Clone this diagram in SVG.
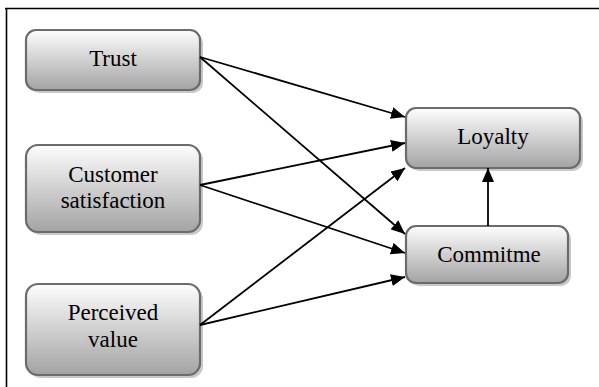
<svg xmlns="http://www.w3.org/2000/svg" width="599" height="387" viewBox="0 0 599 387">
<defs>
<linearGradient id="g" x1="0" y1="0" x2="0" y2="1">
<stop offset="0" stop-color="#fdfdfd"/>
<stop offset="1" stop-color="#a3a3a3"/>
</linearGradient>
<linearGradient id="bl" x1="0" y1="0" x2="1" y2="0">
<stop offset="0" stop-color="#ffffff"/>
<stop offset="0.45" stop-color="#555"/>
<stop offset="1" stop-color="#333"/>
</linearGradient>
<marker id="ah" markerUnits="userSpaceOnUse" markerWidth="16" markerHeight="12" refX="14" refY="6" orient="auto">
<path d="M0,0 L14,6 L0,12 Z" fill="#000"/>
</marker>
</defs>
<style>
.box{fill:url(#g);stroke:#6b6b6b;stroke-width:2.2}
.sh{fill:#c8c8c8}
.t{font-family:'Liberation Serif','Times New Roman',serif;font-size:23px;fill:#000;text-anchor:middle}
.c{stroke:#000;stroke-width:1.8;fill:none;marker-end:url(#ah)}
</style>
<rect width="599" height="387" fill="#fff"/>
<g id="frame">
<line x1="5" y1="8.5" x2="599" y2="8.5" stroke="#000" stroke-width="1.6"/>
<line x1="6.5" y1="8" x2="6.5" y2="387" stroke="#000" stroke-width="1.6"/>
<line x1="420" y1="386" x2="599" y2="386" stroke="url(#bl)" stroke-width="1.6"/>
</g>
<g id="trust">
<rect class="sh" x="29" y="33" width="174" height="60" rx="10"/>
<rect class="box" x="26" y="30" width="174" height="60" rx="10"/>
<text class="t" x="113" y="66">Trust</text>
</g>
<g id="customer-satisfaction">
<rect class="sh" x="29" y="148" width="174" height="87" rx="12"/>
<rect class="box" x="26" y="145" width="174" height="87" rx="12"/>
<text class="t" x="113" y="182">Customer</text>
<text class="t" x="113" y="208">satisfaction</text>
</g>
<g id="perceived-value">
<rect class="sh" x="29" y="287" width="174" height="91" rx="12"/>
<rect class="box" x="26" y="284" width="174" height="91" rx="12"/>
<text class="t" x="113" y="320">Perceived</text>
<text class="t" x="113" y="347">value</text>
</g>
<g id="loyalty">
<rect class="sh" x="409" y="111" width="174" height="60" rx="10"/>
<rect class="box" x="406" y="108" width="174" height="60" rx="10"/>
<text class="t" x="493" y="144">Loyalty</text>
</g>
<g id="commitme">
<rect class="sh" x="409" y="229" width="162" height="57" rx="10"/>
<rect class="box" x="406" y="226" width="162" height="57" rx="10"/>
<text class="t" x="489" y="262">Commitme</text>
</g>
<g id="connectors">
<line class="c" x1="200" y1="57" x2="405" y2="117"/>
<line class="c" x1="200" y1="57" x2="405" y2="234"/>
<line class="c" x1="200" y1="185" x2="405" y2="143"/>
<line class="c" x1="200" y1="185" x2="405" y2="253"/>
<line class="c" x1="200" y1="325" x2="405" y2="168"/>
<line class="c" x1="200" y1="325" x2="405" y2="277"/>
<line class="c" x1="488" y1="226" x2="488" y2="168"/>
</g>
</svg>
